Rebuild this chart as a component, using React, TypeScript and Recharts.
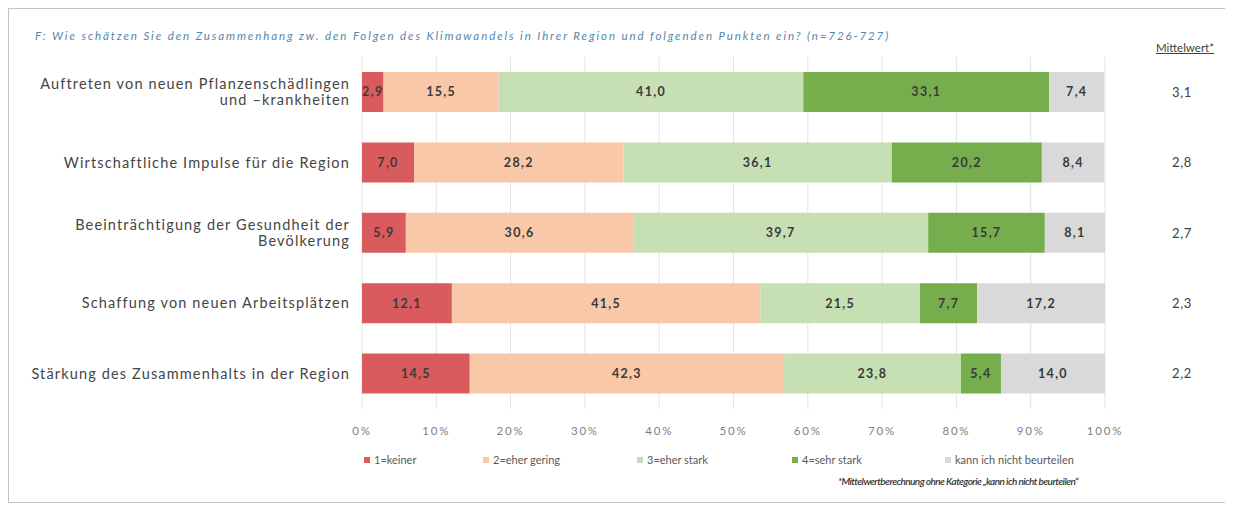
import React from "react";
import {
  BarChart,
  Bar,
  XAxis,
  YAxis,
  CartesianGrid,
  LabelList,
} from "recharts";

const categories = [
  "Auftreten von neuen Pflanzenschädlingen\nund –krankheiten",
  "Wirtschaftliche Impulse für die Region",
  "Beeinträchtigung der Gesundheit der\nBevölkerung",
  "Schaffung von neuen Arbeitsplätzen",
  "Stärkung des Zusammenhalts in der Region",
];
const keiner = [2.9, 7.0, 5.9, 12.1, 14.5];
const eherGering = [15.5, 28.2, 30.6, 41.5, 42.3];
const eherStark = [41.0, 36.1, 39.7, 21.5, 23.8];
const sehrStark = [33.1, 20.2, 15.7, 7.7, 5.4];
const nichtBeurteilen = [7.4, 8.4, 8.1, 17.2, 14.0];
const mittelwert = [3.1, 2.8, 2.7, 2.3, 2.2];
const xTicks = [0, 10, 20, 30, 40, 50, 60, 70, 80, 90, 100];

const series = [
  { key: "keiner", name: "1=keiner", color: "#d95b5e" },
  { key: "gering", name: "2=eher gering", color: "#f8c8a8" },
  { key: "stark", name: "3=eher stark", color: "#c6e0b4" },
  { key: "sehr", name: "4=sehr stark", color: "#76ae4e" },
  { key: "nicht", name: "kann ich nicht beurteilen", color: "#d9d9d9" },
];

const data = categories.map((name, i) => ({
  name,
  keiner: keiner[i],
  gering: eherGering[i],
  stark: eherStark[i],
  sehr: sehrStark[i],
  nicht: nichtBeurteilen[i],
  mean: mittelwert[i],
}));

const FONT = "Lato, 'Liberation Sans', sans-serif";
const fmt = (v: any) => Number(v).toFixed(1).replace(".", ",");

const CategoryTick = ({ x, y, payload }: any) => {
  const lines = String(payload.value).split("\n");
  const lh = 16;
  const start = y - ((lines.length - 1) * lh) / 2;
  return (
    <text textAnchor="end" fill="#454545" fontSize={14.5} letterSpacing={1.15} fontFamily={FONT}>
      {lines.map((l, i) => (
        <tspan key={i} x={x - 4} y={start + i * lh} dy="0.35em">
          {l}
        </tspan>
      ))}
    </text>
  );
};

const MeanTick = ({ x, y, payload, index }: any) => {
  const row = data.find((d) => d.name === payload.value);
  const v = row ? row.mean : mittelwert[index];
  return (
    <text
      x={x + 69}
      y={y}
      dy="0.35em"
      textAnchor="middle"
      fill="#404040"
      fontSize={13}
      letterSpacing={0.6}
      fontFamily={FONT}
    >
      {fmt(v)}
    </text>
  );
};

const widths = [119, 154, 155, 153, 160];

export default function App() {
  return (
    <div
      style={{
        position: "relative",
        width: 1223,
        height: 495,
        border: "1px solid #c4c4c4",
        boxSizing: "border-box",
        background: "#fff",
        boxShadow: "-1px 0 3px rgba(0,0,0,0.25)",
      }}
    >
      {/* dark band under the frame */}
      <div
        style={{
          position: "absolute",
          left: -9,
          right: -12,
          bottom: -8,
          height: 7,
          background: "linear-gradient(#a0a0a0, #606060)",
        }}
      />
      <div
        style={{
          position: "absolute",
          left: 26,
          top: 20,
          fontFamily: FONT,
          fontStyle: "italic",
          fontSize: 11.5,
          letterSpacing: 1.9,
          color: "#5686a8",
          whiteSpace: "nowrap",
        }}
      >
        F: Wie schätzen Sie den Zusammenhang zw. den Folgen des Klimawandels in Ihrer Region und folgenden Punkten ein? (n=726-727)
      </div>
      <div
        style={{
          position: "absolute",
          left: 1136,
          top: 32,
          width: 80,
          textAlign: "center",
          fontFamily: FONT,
          fontSize: 11.5,
          color: "#404040",
          textDecoration: "underline",
        }}
      >
        Mittelwert*
      </div>
      <div
        style={{
          position: "absolute",
          left: 355,
          top: 444,
          display: "flex",
          fontFamily: FONT,
          fontSize: 11,
          color: "#595959",
        }}
      >
        {series.map((s, i) => (
          <div key={s.key} style={{ width: widths[i], display: "flex", alignItems: "center" }}>
            <span style={{ width: 6, height: 6, background: s.color, marginRight: 4, display: "inline-block" }} />
            <span>{s.name}</span>
          </div>
        ))}
      </div>
      <div
        style={{
          position: "absolute",
          right: 152,
          top: 466,
          fontFamily: FONT,
          fontStyle: "italic",
          fontWeight: 600,
          fontSize: 10,
          letterSpacing: -0.55,
          color: "#333",
          whiteSpace: "nowrap",
        }}
      >
        *Mittelwertberechnung ohne Kategorie „kann ich nicht beurteilen“
      </div>
      <BarChart
        width={1221}
        height={487}
        data={data}
        layout="vertical"
        margin={{ top: 48, right: 25, bottom: 57, left: 53 }}
        barSize={40}
      >
        <CartesianGrid horizontal={false} stroke="#e4e4e4" />
        <XAxis
          type="number"
          domain={[0, 100]}
          ticks={xTicks}
          tickFormatter={(v: number) => `${v}%`}
          axisLine={false}
          tickLine={false}
          tickMargin={12}
          height={30}
          tick={{ fill: "#7f7f7f", fontSize: 11.5, fontFamily: FONT, letterSpacing: 1.8 }}
        />
        <YAxis
          type="category"
          dataKey="name"
          width={300}
          axisLine={false}
          tickLine={false}
          tick={<CategoryTick />}
          interval={0}
        />
        <YAxis
          yAxisId="mean"
          type="category"
          dataKey="name"
          orientation="right"
          width={100}
          axisLine={false}
          tickLine={false}
          tick={<MeanTick />}
          interval={0}
        />
        {series.map((s) => (
          <Bar key={s.key} dataKey={s.key} name={s.name} stackId="a" fill={s.color} isAnimationActive={false}>
            <LabelList
              dataKey={s.key}
              position="center"
              formatter={fmt}
              fill="#3a3a3a"
              fontSize={12.5}
              fontWeight={700}
              letterSpacing={1.3}
              fontFamily={FONT}
            />
          </Bar>
        ))}
      </BarChart>
    </div>
  );
}
